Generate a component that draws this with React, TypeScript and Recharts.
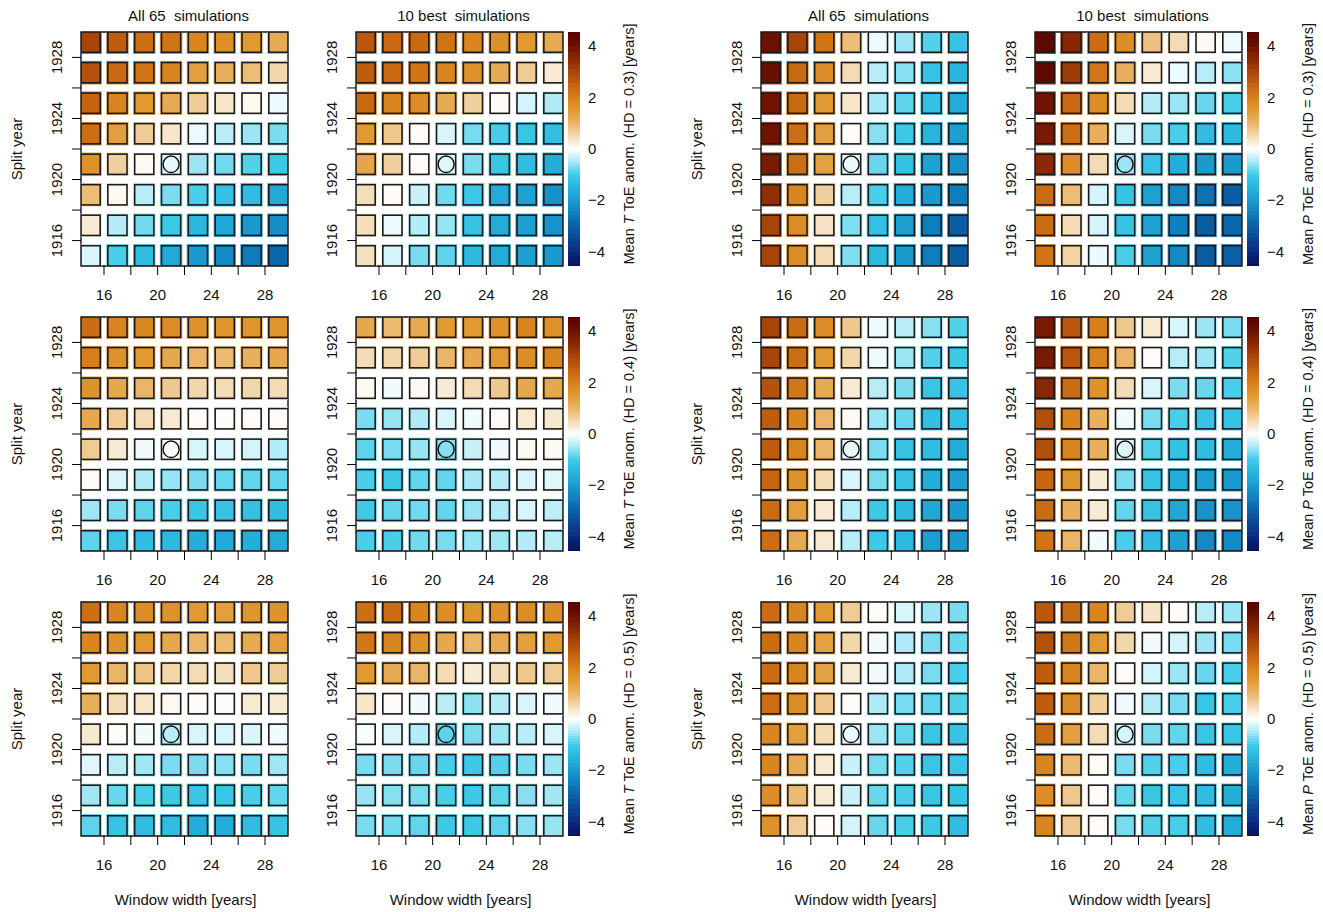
import React from 'react';
import { ScatterChart, Scatter, XAxis, YAxis, ReferenceArea } from 'recharts';

// ---------------- data ----------------
const WINDOW_WIDTHS = [15, 17, 19, 21, 23, 25, 27, 29];
const SPLIT_YEARS = [1929, 1927, 1925, 1923, 1921, 1919, 1917, 1915]; // rows, top to bottom
const X_TICKS = [16, 18, 20, 22, 24, 26, 28];
const X_LABELED = [16, 20, 24, 28];
const Y_TICKS = [1916, 1918, 1920, 1922, 1924, 1926, 1928];
const Y_LABELED = [1916, 1920, 1924, 1928];
const CB_TICKS = [-4, -2, 0, 2, 4];
const REF_POINT = [{ x: 21, y: 1921 }];
const HD_LABELS = ['0.3', '0.4', '0.5'];
const VAR_LABELS = ['T', 'P'];
const TITLES = ['All 65  simulations', '10 best  simulations'];

const T03_ALL = [
  [3.0, 2.6, 2.3, 2.2, 1.9, 1.7, 1.5, 1.2],
  [2.8, 2.4, 2.2, 1.9, 1.4, 1.1, 0.9, 0.55],
  [2.5, 1.9, 1.5, 1.2, 0.7, 0.35, 0.1, -0.1],
  [2.3, 1.4, 0.7, 0.35, -0.1, -0.4, -0.55, -0.7],
  [1.65, 0.65, 0.08, -0.15, -0.55, -0.75, -0.9, -1.05],
  [0.9, 0.1, -0.4, -0.7, -0.95, -1.2, -1.3, -1.7],
  [0.3, -0.42, -0.75, -1.05, -1.4, -1.75, -2.0, -2.2],
  [-0.22, -0.95, -1.3, -1.7, -2.0, -2.3, -2.55, -2.85],
];
const T03_BEST = [
  [2.7, 2.4, 2.4, 2.2, 1.9, 1.7, 1.5, 1.2],
  [2.6, 2.4, 2.2, 1.9, 1.65, 1.2, 0.7, 0.3],
  [2.4, 1.9, 1.75, 1.2, 0.65, 0.05, -0.25, -0.45],
  [1.5, 0.75, 0.05, -0.22, -0.72, -0.95, -1.1, -1.25],
  [1.3, 0.65, 0.05, -0.18, -0.7, -1.1, -1.3, -1.65],
  [0.45, 0.05, -0.3, -0.75, -1.05, -1.65, -1.85, -2.15],
  [0.45, -0.1, -0.42, -0.57, -1.15, -1.65, -1.9, -2.1],
  [0.42, -0.25, -0.7, -0.85, -1.35, -1.65, -1.9, -2.0],
];
const P03_ALL = [
  [4.0, 3.0, 2.2, 0.9, -0.1, -0.55, -0.9, -1.15],
  [4.1, 2.4, 1.75, 0.5, -0.4, -0.65, -1.15, -1.45],
  [3.95, 2.4, 1.5, 0.35, -0.5, -0.85, -1.2, -1.65],
  [3.95, 2.3, 1.4, 0.05, -0.65, -1.05, -1.45, -1.9],
  [3.8, 2.3, 1.35, -0.12, -0.8, -1.2, -1.85, -2.1],
  [3.4, 1.9, 0.65, -0.4, -0.95, -1.6, -2.0, -2.5],
  [3.0, 1.75, 0.4, -0.68, -1.2, -1.9, -2.5, -3.0],
  [3.0, 1.75, 0.5, -0.68, -1.35, -2.0, -2.5, -3.0],
];
const P03_BEST = [
  [4.3, 3.55, 2.35, 1.75, 0.85, 0.5, 0.08, -0.1],
  [4.3, 3.15, 2.15, 1.1, 0.3, -0.1, -0.4, -0.62],
  [3.95, 2.4, 1.75, 0.5, -0.42, -0.55, -0.8, -0.95],
  [3.8, 2.3, 1.1, -0.22, -0.7, -0.95, -1.3, -1.35],
  [3.5, 1.75, 0.5, -0.55, -1.15, -1.6, -2.0, -2.0],
  [2.35, 0.9, -0.25, -1.15, -1.85, -2.3, -2.7, -3.0],
  [2.35, 0.5, -0.25, -1.15, -1.85, -2.45, -3.0, -2.85],
  [2.2, 0.6, -0.1, -0.95, -1.85, -2.3, -3.0, -2.95],
];
const T04_ALL = [
  [2.35, 1.9, 1.85, 1.75, 1.65, 1.6, 1.6, 1.6],
  [2.0, 1.65, 1.5, 1.25, 1.0, 0.95, 1.1, 1.25],
  [1.65, 1.25, 1.0, 0.75, 0.55, 0.5, 0.55, 0.5],
  [1.25, 0.7, 0.5, 0.3, 0.05, 0.05, 0.05, 0.05],
  [0.7, 0.28, -0.08, 0.02, -0.22, -0.22, -0.25, -0.42],
  [0.05, -0.22, -0.45, -0.57, -0.7, -0.8, -0.83, -0.83],
  [-0.53, -0.7, -0.85, -0.95, -1.1, -1.15, -1.22, -1.3],
  [-0.85, -1.1, -1.3, -1.35, -1.6, -1.7, -1.6, -1.65],
];
const T04_BEST = [
  [1.25, 0.95, 1.2, 1.5, 1.5, 1.65, 1.95, 1.65],
  [0.5, 0.55, 0.7, 1.0, 1.25, 1.5, 1.75, 1.9],
  [0.08, -0.08, 0.08, 0.28, 0.5, 0.75, 1.25, 1.25],
  [-0.7, -0.57, -0.45, -0.22, -0.08, 0.05, 0.3, 0.32],
  [-0.85, -0.72, -0.57, -0.65, -0.3, -0.08, 0.08, 0.08],
  [-0.95, -1.05, -0.83, -0.83, -0.5, -0.42, -0.22, -0.18],
  [-1.0, -0.83, -0.75, -0.83, -0.57, -0.45, -0.22, -0.38],
  [-0.95, -0.95, -0.75, -0.72, -0.57, -0.53, -0.42, -0.4],
];
const P04_ALL = [
  [3.0, 2.35, 1.75, 0.75, -0.08, -0.4, -0.65, -0.9],
  [3.0, 2.3, 1.5, 0.55, -0.08, -0.55, -0.9, -1.05],
  [2.8, 2.15, 1.2, 0.3, -0.4, -0.7, -1.1, -1.15],
  [2.6, 1.9, 1.0, 0.08, -0.55, -0.8, -1.25, -1.25],
  [2.6, 1.9, 1.0, -0.12, -0.7, -1.15, -1.3, -1.65],
  [2.45, 1.65, 0.5, -0.22, -0.72, -1.15, -1.6, -1.9],
  [2.35, 1.4, 0.3, -0.4, -1.05, -1.35, -1.75, -2.0],
  [2.3, 1.2, 0.3, -0.4, -1.05, -1.35, -1.9, -2.0],
];
const P04_BEST = [
  [3.8, 2.7, 2.0, 0.75, 0.3, -0.22, -0.55, -0.72],
  [3.8, 2.7, 1.95, 1.0, 0.05, -0.4, -0.55, -0.9],
  [3.55, 2.35, 1.65, 0.5, -0.22, -0.7, -0.8, -0.95],
  [2.85, 1.9, 1.1, -0.08, -0.72, -0.95, -1.15, -1.15],
  [2.85, 1.9, 1.1, -0.18, -0.9, -1.2, -1.3, -1.65],
  [2.45, 1.6, 0.3, -0.7, -1.15, -1.65, -1.9, -2.0],
  [2.35, 1.1, 0.3, -0.83, -1.15, -1.75, -2.1, -2.1],
  [2.2, 1.0, -0.08, -0.95, -1.3, -1.85, -2.3, -2.3],
];
const T05_ALL = [
  [2.3, 1.9, 1.75, 1.65, 1.5, 1.4, 1.6, 1.65],
  [1.9, 1.65, 1.5, 1.25, 1.0, 0.95, 1.2, 1.4],
  [1.5, 1.0, 0.8, 0.55, 0.5, 0.45, 0.75, 0.7],
  [1.1, 0.5, 0.35, 0.1, 0.05, 0.05, 0.3, 0.3],
  [0.32, 0.05, -0.08, -0.4, -0.22, -0.22, -0.2, -0.08],
  [-0.18, -0.4, -0.53, -0.7, -0.7, -0.65, -0.7, -0.53],
  [-0.53, -0.8, -0.95, -1.05, -1.1, -1.1, -0.95, -0.83],
  [-0.85, -1.15, -1.3, -1.3, -1.6, -1.6, -1.3, -1.15],
];
const T05_BEST = [
  [2.3, 2.35, 1.9, 1.75, 1.6, 1.65, 1.75, 1.75],
  [2.15, 1.9, 1.65, 1.25, 1.0, 1.2, 1.4, 1.5],
  [1.5, 1.2, 1.0, 0.5, 0.28, 0.5, 0.75, 0.7],
  [0.35, 0.05, -0.08, -0.4, -0.62, -0.42, -0.22, -0.08],
  [-0.05, -0.22, -0.42, -0.85, -0.7, -0.55, -0.4, -0.22],
  [-0.72, -0.7, -0.8, -0.95, -1.05, -0.9, -0.7, -0.55],
  [-0.57, -0.65, -0.72, -0.95, -1.05, -0.85, -0.65, -0.53],
  [-0.72, -0.75, -0.83, -1.05, -1.05, -0.85, -0.65, -0.57],
];
const P05_ALL = [
  [2.35, 1.9, 1.5, 0.7, 0.05, -0.22, -0.55, -0.7],
  [2.35, 1.9, 1.35, 0.55, -0.08, -0.45, -0.7, -0.8],
  [2.35, 1.9, 1.35, 0.3, -0.08, -0.45, -0.72, -0.95],
  [2.3, 1.75, 0.75, 0.05, -0.45, -0.72, -0.83, -0.9],
  [1.9, 1.4, 0.5, -0.12, -0.55, -0.83, -1.1, -1.15],
  [1.9, 1.2, 0.3, -0.3, -0.72, -0.9, -1.1, -1.1],
  [1.75, 0.95, 0.3, -0.3, -0.8, -0.95, -1.1, -1.15],
  [1.65, 0.7, 0.05, -0.25, -0.8, -0.95, -1.05, -1.3],
];
const P05_BEST = [
  [2.7, 2.35, 1.9, 0.7, 0.38, 0.05, -0.4, -0.55],
  [2.8, 2.15, 1.5, 0.55, -0.08, -0.25, -0.55, -0.72],
  [2.6, 1.9, 1.0, 0.05, -0.25, -0.55, -0.8, -0.95],
  [2.6, 1.75, 0.65, -0.08, -0.42, -0.7, -1.1, -0.95],
  [2.35, 1.4, 0.5, -0.25, -0.7, -0.83, -1.1, -1.1],
  [1.9, 0.95, 0.05, -0.7, -0.9, -0.95, -1.3, -1.6],
  [1.75, 0.75, 0.05, -0.83, -1.1, -1.1, -1.3, -1.6],
  [1.9, 0.75, 0.05, -0.72, -0.9, -0.95, -1.3, -1.65],
];

// panel matrices per row (HD) and column (T all, T best, P all, P best)
const PANEL_GRID = [
  [T03_ALL, T03_BEST, P03_ALL, P03_BEST],
  [T04_ALL, T04_BEST, P04_ALL, P04_BEST],
  [T05_ALL, T05_BEST, P05_ALL, P05_BEST],
];

// ---------------- styling / layout ----------------
const FONT = '"Liberation Sans", Arial, Helvetica, sans-serif';
const INK = '#111';
const FS = 15;
const PLOT_W = 207;
const PLOT_H = 234;
const COL_X = [81, 356, 761, 1035];
const ROW_Y = [32, 317, 602];
const CB_X = [568, 1247];
const CB_W = 12;
const X_DOMAIN: [number, number] = [14.285, 29.715];
const Y_DOMAIN: [number, number] = [1914.335, 1929.665];
const CB_DOMAIN: [number, number] = [-4.55, 4.55];
const SQ_W_UNITS = 1.43;
const SQ_H_UNITS = 1.33;
const ML = 60;
const MT = 6;
const MR = 6;
const MB = 45;

const STOPS: [number, string][] = [
  [-4.55, '#08105c'],
  [-4, '#0b2a7e'],
  [-3, '#0b5ea4'],
  [-2.5, '#0f7ebd'],
  [-2, '#1b9acd'],
  [-1.5, '#26b3dd'],
  [-1, '#3ecbe7'],
  [-0.5, '#a6e8f5'],
  [0, '#ffffff'],
  [0.5, '#f3dbb5'],
  [1, '#eab568'],
  [1.5, '#e19a32'],
  [2, '#d7801b'],
  [2.5, '#c5630f'],
  [3, '#a8460a'],
  [3.5, '#8a2904'],
  [4, '#6d1200'],
  [4.55, '#560000'],
];

function hexToRgb(h: string) {
  const n = parseInt(h.slice(1), 16);
  return [(n >> 16) & 255, (n >> 8) & 255, n & 255];
}
function valueToColor(v: number) {
  if (v <= STOPS[0][0]) return STOPS[0][1];
  for (let i = 1; i < STOPS.length; i++) {
    if (v <= STOPS[i][0]) {
      const [v0, c0] = STOPS[i - 1];
      const [v1, c1] = STOPS[i];
      const t = (v - v0) / (v1 - v0);
      const a = hexToRgb(c0);
      const b = hexToRgb(c1);
      const m = a.map((x, k) => Math.round(x + (b[k] - x) * t));
      return `rgb(${m[0]},${m[1]},${m[2]})`;
    }
  }
  return STOPS[STOPS.length - 1][1];
}

const PX_X = PLOT_W / (X_DOMAIN[1] - X_DOMAIN[0]);
const PX_Y = PLOT_H / (Y_DOMAIN[1] - Y_DOMAIN[0]);
const PX_CB = PLOT_H / (CB_DOMAIN[1] - CB_DOMAIN[0]);

const SquareShape = (props: any) => {
  const { cx, cy, payload } = props;
  if (cx == null || cy == null) return <g />;
  const w = SQ_W_UNITS * PX_X;
  const h = SQ_H_UNITS * PX_Y;
  const fill = valueToColor(payload.v);
  return (
    <g>
      <rect x={cx - w / 2} y={cy - h / 2} width={w} height={h} fill={fill} stroke={fill} strokeOpacity={0.7} strokeWidth={3.4} />
      <rect x={cx - w / 2} y={cy - h / 2} width={w} height={h} fill="none" stroke="#1a1a1a" strokeWidth={1.6} />
    </g>
  );
};

const RefCircle = (props: any) => {
  const { cx, cy } = props;
  if (cx == null || cy == null) return <g />;
  return <ellipse cx={cx} cy={cy} rx={8} ry={8.3} fill="none" stroke="#111" strokeWidth={1.4} />;
};

const XTick = (props: any) => {
  const { x, payload } = props;
  if (!X_LABELED.includes(payload.value)) return <g />;
  return (
    <text x={x} y={MT + PLOT_H + 34} textAnchor="middle" fontSize={FS} fontFamily={FONT} fill={INK}>
      {payload.value}
    </text>
  );
};

const YTick = (props: any) => {
  const { y, payload } = props;
  if (!Y_LABELED.includes(payload.value)) return <g />;
  const tx = ML - 19;
  return (
    <text x={tx} y={y} transform={`rotate(-90 ${tx} ${y})`} textAnchor="middle" fontSize={FS} fontFamily={FONT} fill={INK}>
      {payload.value}
    </text>
  );
};

const CbTick = (props: any) => {
  const { y, payload } = props;
  const v = payload.value as number;
  const label = v < 0 ? `\u2212${Math.abs(v)}` : `${v}`;
  return (
    <text x={CB_W + 8} y={y + 5} textAnchor="start" fontSize={FS} fontFamily={FONT} fill={INK}>
      {label}
    </text>
  );
};

function Panel({ left, top, matrix }: { left: number; top: number; matrix: number[][] }) {
  const data: { x: number; y: number; v: number }[] = [];
  SPLIT_YEARS.forEach((yr, r) => {
    WINDOW_WIDTHS.forEach((w, c) => {
      data.push({ x: w, y: yr, v: matrix[r][c] });
    });
  });
  return (
    <div style={{ position: 'absolute', left: left - ML, top: top - MT }}>
      <ScatterChart width={ML + PLOT_W + MR} height={MT + PLOT_H + MB} margin={{ top: MT, right: MR, bottom: 0, left: 0 }}>
        <XAxis
          type="number"
          dataKey="x"
          domain={X_DOMAIN}
          ticks={X_TICKS}
          interval={0}
          allowDataOverflow
          height={MB}
          axisLine={false}
          stroke="#000"
          tickLine={{ stroke: '#000', strokeWidth: 1 }}
          tickSize={9}
          tick={<XTick />}
        />
        <YAxis
          type="number"
          dataKey="y"
          domain={Y_DOMAIN}
          ticks={Y_TICKS}
          interval={0}
          allowDataOverflow
          width={ML}
          axisLine={false}
          stroke="#000"
          tickLine={{ stroke: '#000', strokeWidth: 1 }}
          tickSize={9}
          tick={<YTick />}
        />
        <Scatter data={data} shape={<SquareShape />} isAnimationActive={false} />
        <Scatter data={REF_POINT} shape={<RefCircle />} isAnimationActive={false} />
        <ReferenceArea
          x1={X_DOMAIN[0]}
          x2={X_DOMAIN[1]}
          y1={Y_DOMAIN[0]}
          y2={Y_DOMAIN[1]}
          fill="none"
          fillOpacity={0}
          stroke="#111"
          strokeWidth={1.4}
          ifOverflow="visible"
        />
      </ScatterChart>
    </div>
  );
}

const CbBand = (props: any) => {
  const { cx, cy, payload } = props;
  if (cx == null || cy == null) return <g />;
  const h = payload.h * PX_CB + 0.6;
  return <rect x={cx - CB_W / 2} y={cy - h / 2} width={CB_W} height={h} fill={valueToColor(payload.y)} />;
};

function ColorBar({ left, top }: { left: number; top: number }) {
  const n = 91;
  const step = (CB_DOMAIN[1] - CB_DOMAIN[0]) / n;
  const bands = Array.from({ length: n }, (_, i) => ({ x: 0.5, y: CB_DOMAIN[0] + step * (i + 0.5), h: step }));
  return (
    <div style={{ position: 'absolute', left, top: top - MT }}>
      <ScatterChart width={CB_W + 40} height={MT + PLOT_H + 6} margin={{ top: MT, right: 0, bottom: 6, left: 0 }}>
        <XAxis type="number" dataKey="x" domain={[0, 1]} hide />
        <YAxis
          type="number"
          dataKey="y"
          orientation="right"
          domain={CB_DOMAIN}
          ticks={CB_TICKS}
          interval={0}
          allowDataOverflow
          width={40}
          axisLine={false}
          tickLine={false}
          tick={<CbTick />}
        />
        <Scatter data={bands} shape={<CbBand />} isAnimationActive={false} />
      </ScatterChart>
    </div>
  );
}

export default function App() {
  const textProps = { fontSize: FS, fontFamily: FONT, fill: INK, style: { whiteSpace: 'pre' as const } };
  return (
    <div style={{ position: 'absolute', left: 0, top: 0, width: 1323, height: 912, background: '#fff', overflow: 'hidden' }}>
      {PANEL_GRID.map((row, r) =>
        row.map((m, c) => <Panel key={`${r}-${c}`} left={COL_X[c]} top={ROW_Y[r]} matrix={m} />)
      )}
      {ROW_Y.map((ty, r) => CB_X.map((cx, k) => <ColorBar key={`cb-${r}-${k}`} left={cx} top={ty} />))}
      <svg width={1323} height={912} style={{ position: 'absolute', left: 0, top: 0, pointerEvents: 'none' }}>
        {COL_X.map((x, c) => (
          <text key={`t${c}`} x={x + PLOT_W / 2 + 4} y={ROW_Y[0] - 11.3} textAnchor="middle" xmlSpace="preserve" {...textProps}>
            {TITLES[c % 2]}
          </text>
        ))}
        {ROW_Y.map((y, r) =>
          [COL_X[0], COL_X[2]].map((x, k) => {
            const lx = x - 59.5;
            const ly = y + PLOT_H / 2;
            return (
              <text key={`sy${r}${k}`} x={lx} y={ly} transform={`rotate(-90 ${lx} ${ly})`} textAnchor="middle" {...textProps}>
                Split year
              </text>
            );
          })
        )}
        {COL_X.map((x, c) => (
          <text key={`ww${c}`} x={x + PLOT_W / 2 + 1} y={ROW_Y[2] + PLOT_H + 68.5} textAnchor="middle" {...textProps}>
            Window width [years]
          </text>
        ))}
        {ROW_Y.map((y, r) =>
          CB_X.map((x, k) => {
            const lx = x + 66;
            const ly = y + 112;
            return (
              <text
                key={`cbl${r}${k}`}
                x={lx}
                y={ly}
                transform={`rotate(-90 ${lx} ${ly})`}
                textAnchor="middle"
                {...textProps}
                fontSize={14.5}
              >
                {'Mean '}
                <tspan fontStyle="italic">{VAR_LABELS[k]}</tspan>
                {` ToE anom. (HD = ${HD_LABELS[r]}) [years]`}
              </text>
            );
          })
        )}
      </svg>
    </div>
  );
}
